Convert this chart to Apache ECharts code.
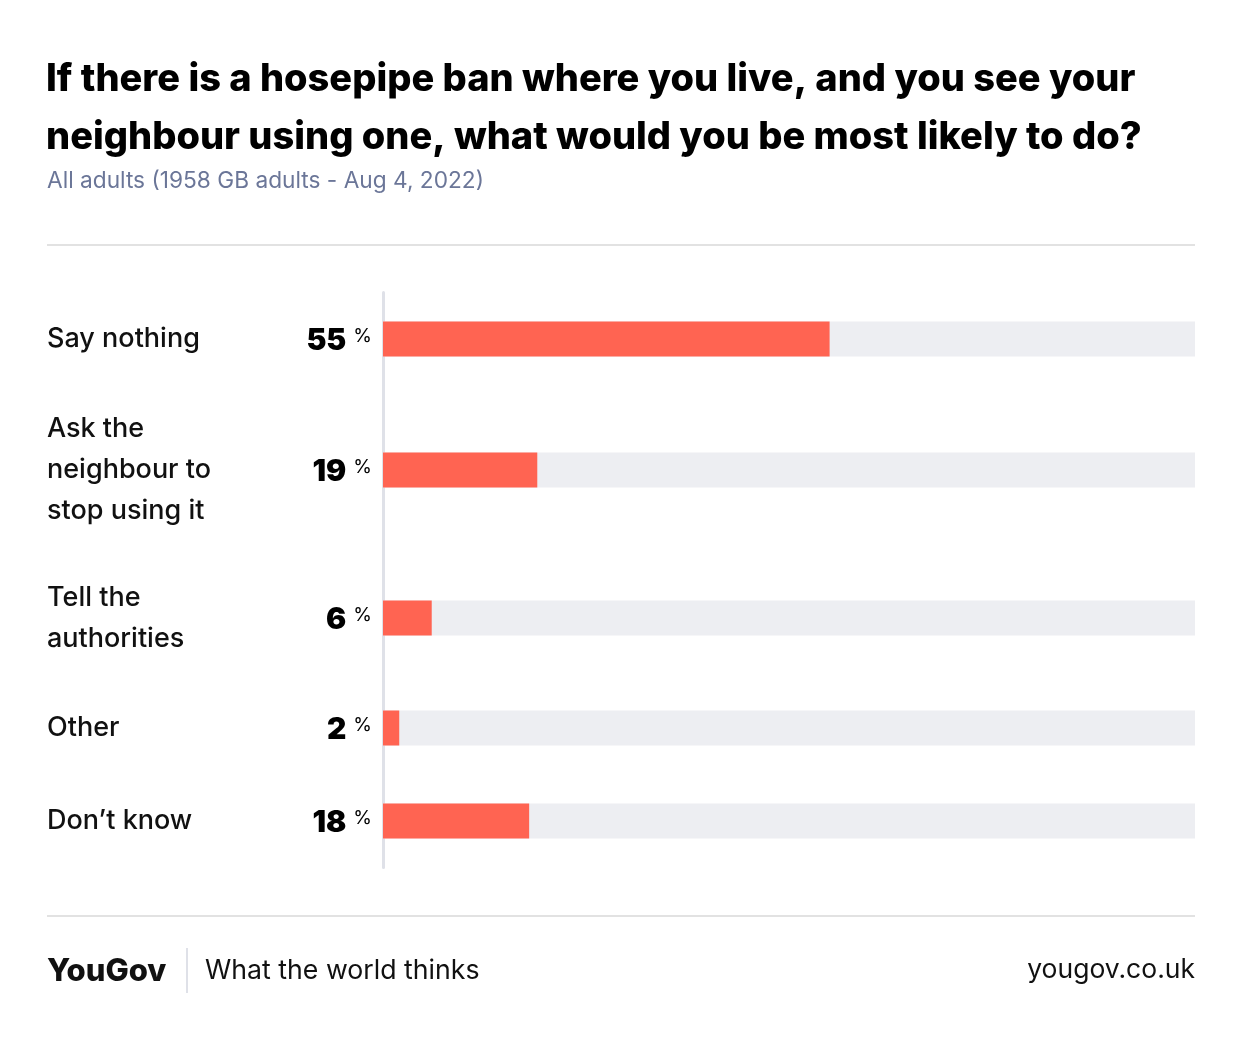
<!DOCTYPE html>
<html><head><meta charset="utf-8">
<script src="https://cdn.jsdelivr.net/npm/echarts@6/dist/echarts.min.js"></script>
<style>html,body{margin:0;padding:0;background:#fff}#c{width:1242px;height:1040px}</style>
</head><body><div id="c"></div>
<script>
const categories = ['Say nothing', 'Ask the\nneighbour to\nstop using it', 'Tell the\nauthorities', 'Other', 'Don\u2019t know'];
const values = [55, 19, 6, 2, 18];
const rowLines = [1, 3, 2, 1, 1];

const FONT = 'Inter, "Noto Sans", sans-serif';
const rowH = {1: 93, 2: 127, 3: 169};
const chart = echarts.init(document.getElementById('c'));
const grids = [], xAxes = [], yAxes = [], series = [];
let rowTop = 292.5;
categories.forEach((cat, i) => {
  const h = rowH[rowLines[i]];
  grids.push({left: 383, right: 47, top: rowTop, height: h, containLabel: false});
  rowTop += h;
  xAxes.push({gridIndex: i, type: 'value', min: 0, max: 100, show: false});
  yAxes.push({
    gridIndex: i, type: 'category', data: [cat], offset: 2.5,
    axisLine: {show: true, lineStyle: {color: '#dfe1e8', width: 3}},
    axisTick: {show: false}, splitLine: {show: false},
    axisLabel: {align: 'left', margin: 333.5, fontFamily: FONT, fontSize: 27, fontWeight: 500,
      color: '#111', lineHeight: 41, padding: [rowLines[i] > 1 ? 9 : 4, 0, 0, 0]}
  });
  series.push({
    type: 'bar', xAxisIndex: i, yAxisIndex: i, data: [values[i]], barWidth: 35,
    itemStyle: {color: '#ff6452'}, showBackground: true,
    backgroundStyle: {color: '#edeef2'}, silent: true,
    label: {show: true, position: 'left', distance: 11, offset: [0, 2],
      formatter: '{v|{c}}{p|%}',
      rich: {
        v: {fontFamily: FONT, fontSize: 30, fontWeight: 900, color: '#000', lineHeight: 34},
        p: {fontFamily: FONT, fontSize: 19, fontWeight: 400, color: '#000', lineHeight: 34, padding: [0, 0, 9, 7]}
      }}
  });
});

chart.setOption({
  animation: false,
  backgroundColor: '#fff',
  title: [
    {text: 'If there is a hosepipe ban where you live, and you see your\nneighbour using one, what would you be most likely to do?',
     left: 46, top: 51, padding: 0,
     textStyle: {fontFamily: FONT, fontSize: 38, fontWeight: 800, color: '#000', lineHeight: 58}},
    {text: 'All adults (1958 GB adults - Aug 4, 2022)', left: 47, top: 170, padding: 0,
     textStyle: {fontFamily: FONT, fontSize: 22.7, fontWeight: 400, color: '#6b7698'}}
  ],
  grid: grids, xAxis: xAxes, yAxis: yAxes, series: series,
  graphic: [
    {type: 'line', shape: {x1: 47, y1: 245, x2: 1195, y2: 245}, style: {stroke: '#e2e2e2', lineWidth: 2}},
    {type: 'line', shape: {x1: 47, y1: 916, x2: 1195, y2: 916}, style: {stroke: '#e2e2e2', lineWidth: 2}},
    {type: 'line', shape: {x1: 187, y1: 948, x2: 187, y2: 993}, style: {stroke: '#dfe1e8', lineWidth: 2}},
    {type: 'text', left: 47, top: 956, style: {text: 'YouGov', fontFamily: FONT, fontSize: 31, fontWeight: 800, fill: '#111'}},
    {type: 'text', left: 205, top: 957, style: {text: 'What the world thinks', fontFamily: FONT, fontSize: 26.7, fontWeight: 400, fill: '#111'}},
    {type: 'text', right: 47, top: 957, style: {text: 'yougov.co.uk', fontFamily: FONT, fontSize: 26.5, fontWeight: 400, fill: '#111'}}
  ]
});
</script></body></html>
